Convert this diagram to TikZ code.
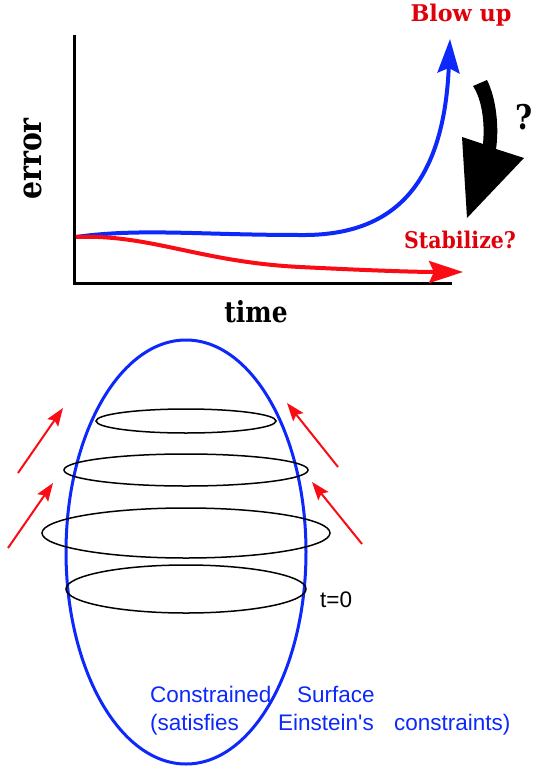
\documentclass[tikz,border=0pt]{standalone}
\usepackage{fontspec}
\setmainfont{DejaVu Serif}
\newfontfamily\narrowfont[FakeStretch=0.86]{DejaVu Serif}
\newfontfamily\labelfont{Liberation Sans}
\usetikzlibrary{arrows.meta}
\definecolor{curveblue}{RGB}{12,40,250}
\definecolor{curvered}{RGB}{250,12,20}
\definecolor{textred}{RGB}{225,0,10}
\tikzset{
	plottext/.style={font=\bfseries\fontsize{#1}{#1}\selectfont},
	axistext/.style={font=\narrowfont\bfseries\fontsize{#1}{#1}\selectfont},
	surftext/.style={anchor=base west, text=curveblue, inner sep=0pt,
		font=\labelfont\fontsize{22.5}{22.5}\selectfont},
	bigtip/.style={-{Stealth[length=34pt,width=22pt,inset=5pt]}, line width=4pt},
	flowarrow/.style={-{Stealth[length=18pt,width=13pt,inset=3pt]}, line width=2pt, curvered}
}
\begin{document}
\begin{tikzpicture}[x=1pt, y=-1pt]
	\useasboundingbox (0,0) rectangle (533,776);
	% error plot
	\draw[line width=3pt] (74,35) -- (74,283) -- (452,283);
	\node[axistext=33, rotate=90] (err) at (33,159) {error};
	\node[axistext=29] (time) at (256,312) {time};
	\draw[bigtip, curveblue] (76,237) .. controls (140,228) and (200,235) .. (300,235)
		.. controls (380,236) and (443,200) .. (450,39);
	\draw[bigtip, curvered] (76,237) .. controls (150,234) and (200,262) .. (300,267)
		.. controls (380,271) and (420,272) .. (463,272);
	\node[plottext=23, xscale=0.97, text=textred] (blow) at (461,15) {Blow up};
	\node[plottext=23, xscale=0.89, text=textred] (stab) at (460,240) {Stabilize?};
	% thick black turning arrow
	\fill (487,80) .. controls (497,100) and (499,130) .. (496,149) -- (524,158) -- (467,218)
		-- (462,137) -- (483,144) .. controls (485,122) and (482,100) .. (473,86) -- cycle;
	\node[axistext=34] (ask) at (524,117) {?};
	% constrained surface
	\draw[line width=3pt, curveblue] (186,552) ellipse [x radius=120, y radius=212];
	\foreach \cy/\rx/\ry in {421/90/12, 470/122/16, 533/144/25, 589/120/24} {
			\draw[line width=1.5pt] (186,\cy) ellipse [x radius=\rx, y radius=\ry];
		}
	\node[surftext, text=black] (t0) at (320,607) {t=0};
	% flow towards the surface
	\foreach \ax/\ay/\bx/\by in {18/473/63/408, 8/548/53/483, 338/467/287/403, 362/544/312/482} {
			\draw[flowarrow] (\ax,\ay) -- (\bx,\by);
		}
	\node[surftext] (w1) at (150,702) {Constrained};
	\node[surftext] (w2) at (297,702) {Surface};
	\node[surftext] (w3) at (150,730) {(satisfies};
	\node[surftext] (w4) at (278,730) {Einstein's};
	\node[surftext] (w5) at (394,730) {constraints)};
\end{tikzpicture}
\end{document}
